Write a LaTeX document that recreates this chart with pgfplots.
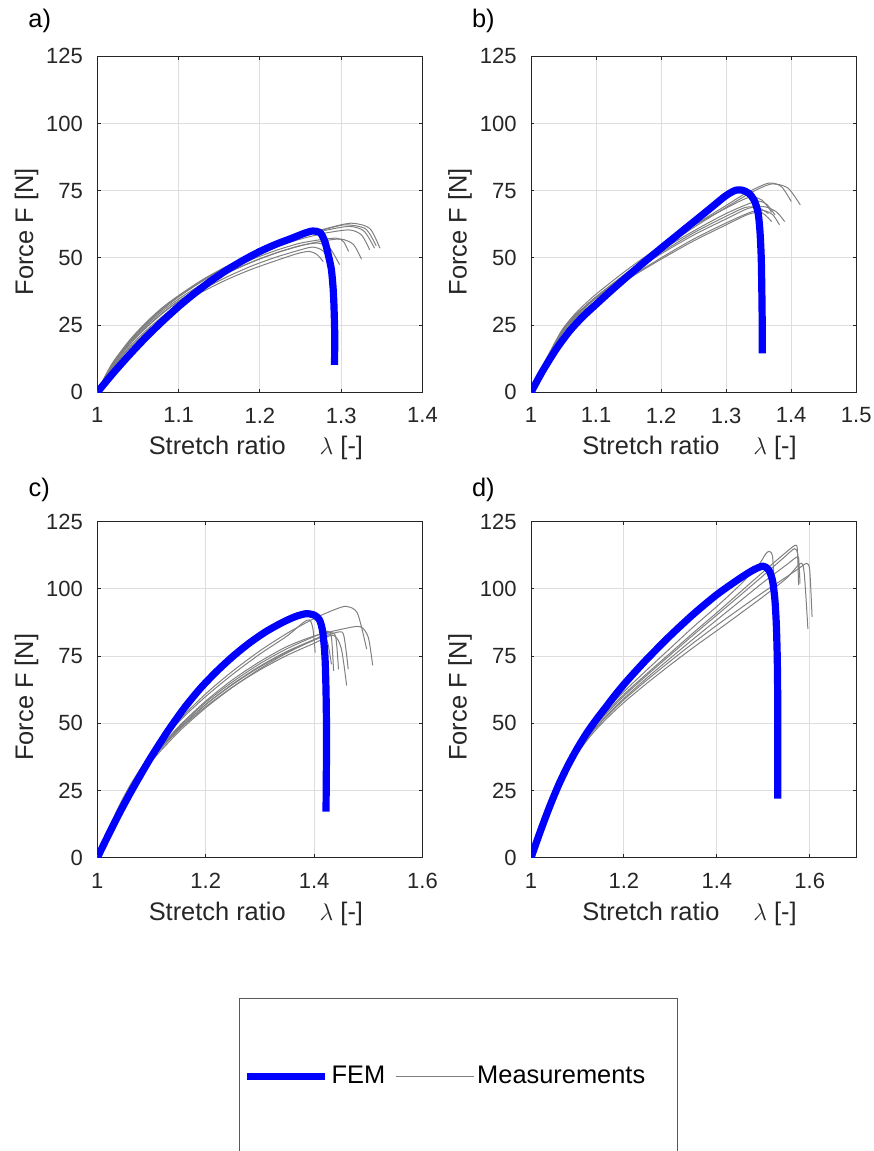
\documentclass[border=0pt]{standalone}
\usepackage{pgfplots}
\pgfplotsset{compat=1.18}
\usepackage{fontspec}
\setmainfont{Liberation Sans}
\definecolor{axgray}{gray}{0.15}
\definecolor{gridgray}{gray}{0.87}
\definecolor{measgray}{gray}{0.5}
\definecolor{legframe}{gray}{0.35}
\definecolor{femblue}{rgb}{0,0,1}
\pgfplotsset{
  panel/.style={
    scale only axis, width=162.6pt, height=168pt,
    ymin=0, ymax=125, ytick={0,25,50,75,100,125},
    xmin=1,
    grid=major, major grid style={gridgray, line width=0.5pt},
    axis line style={axgray, line width=0.5pt},
    every tick/.style={axgray, line width=0.5pt},
    tick align=inside, major tick length=1.7pt,
    /pgf/number format/assume math mode=true,
    tick label style={font=\fontsize{11}{13}\selectfont, text=axgray},
    xticklabel style={anchor=north, inner sep=0pt, yshift=-7.5pt},
    yticklabel style={anchor=east, inner sep=0pt, xshift=-7pt},
    label style={font=\fontsize{12.7}{15}\selectfont, text=axgray, inner sep=0pt},
    xlabel={Stretch ratio\hspace{17pt}$\lambda$ [-]},
    ylabel={Force F [N]},
    xlabel style={at={(axis description cs:0.4877,-0.1864)}, anchor=base},
    ylabel style={at={(axis description cs:-0.1976,0.478)}, anchor=base},
  },
  meas/.style={color=measgray, line width=0.5pt, line join=round, smooth, tension=0.45},
  fem/.style={color=femblue, line width=3.6pt, line join=round, smooth, tension=0.45},
  femleg/.style={color=femblue, line width=3.6pt},
  measleg/.style={color=measgray, line width=0.5pt},
}
\begin{document}
\begin{tikzpicture}
\path[use as bounding box] (0,0) rectangle (436.5pt,575.5pt);
% ---------------- a) ----------------
\begin{axis}[panel, at={(48.65pt,379.35pt)}, anchor=south west, xmax=1.4, xtick={1,1.1,1.2,1.3,1.4}]
\addplot[meas] coordinates {(1,0)(1.01,5)(1.02,9.5)(1.04,16.5)(1.06,22.3)(1.08,27.5)(1.10,32)(1.13,37.5)(1.16,42)(1.19,45.8)(1.22,49)(1.245,51.5)(1.26,52.4)(1.27,51.3)(1.278,48.6)};
\addplot[meas] coordinates {(1,0)(1.01,5.2)(1.02,9.8)(1.04,17)(1.06,23)(1.08,28.2)(1.10,32.8)(1.13,38.3)(1.16,43)(1.19,47)(1.22,50.3)(1.25,53)(1.265,54)(1.278,52.5)(1.290,46.2)};
\addplot[meas] coordinates {(1,0)(1.01,5.5)(1.02,10.3)(1.04,17.8)(1.06,24)(1.08,29.3)(1.10,33.8)(1.13,39.5)(1.16,44.3)(1.19,48.4)(1.22,51.8)(1.25,54.5)(1.27,55.5)(1.285,54)(1.298,47.5)};
\addplot[meas] coordinates {(1,0)(1.01,5.8)(1.02,10.8)(1.04,18.5)(1.06,24.8)(1.08,30.2)(1.10,34.7)(1.13,40.5)(1.16,45.3)(1.19,49.4)(1.22,52.8)(1.25,55.5)(1.28,57)(1.295,57.3)(1.303,56)(1.309,52.4)};
\addplot[meas] coordinates {(1,0)(1.01,5.6)(1.02,10.5)(1.04,18)(1.06,24.2)(1.08,29.5)(1.10,34)(1.13,39.7)(1.16,44.5)(1.19,48.5)(1.22,51.9)(1.25,54.6)(1.28,56.4)(1.30,57)(1.315,55)(1.325,49.5)};
\addplot[meas] coordinates {(1,0)(1.01,6)(1.02,11.2)(1.04,19)(1.06,25.5)(1.08,31)(1.10,35.6)(1.13,41.5)(1.16,46.4)(1.19,50.6)(1.22,54.1)(1.25,57)(1.28,59.2)(1.31,60.4)(1.325,58.5)(1.335,53)};
\addplot[meas] coordinates {(1,0)(1.01,6.2)(1.02,11.5)(1.04,19.5)(1.06,26)(1.08,31.5)(1.10,36)(1.13,42)(1.16,47)(1.19,51.2)(1.22,54.8)(1.25,57.8)(1.28,60.2)(1.31,61.7)(1.328,60)(1.341,53.6)};
\addplot[meas] coordinates {(1,0)(1.01,5.9)(1.02,11)(1.04,18.8)(1.06,25.3)(1.08,30.8)(1.10,35.5)(1.13,41.6)(1.16,46.8)(1.19,51.2)(1.22,55)(1.25,58.2)(1.28,60.8)(1.312,62.9)(1.335,61)(1.3476,53.6)};
\addplot[meas] coordinates {(1,0)(1.01,6.1)(1.02,11.3)(1.04,19.2)(1.06,25.7)(1.08,31.2)(1.10,35.8)(1.13,41.8)(1.16,46.9)(1.19,51.3)(1.22,55)(1.25,58.1)(1.28,60.6)(1.305,62.3)(1.33,60.8)(1.343,54.5)};
\addplot[fem] coordinates {(1,0)(1.02,7.3)(1.04,14.1)(1.06,20.5)(1.08,26.4)(1.10,31.9)(1.12,36.9)(1.14,41.5)(1.16,45.6)(1.18,49.2)(1.20,52.4)(1.22,55.1)(1.24,57.4)(1.255,59.2)(1.265,60.0)(1.274,59.4)(1.280,56.0)(1.285,50)(1.288,45.5)(1.290,39)(1.291,33)(1.292,22)(1.2918,10.2)};
\end{axis}
% ---------------- b) ----------------
\begin{axis}[panel, at={(265.5pt,379.35pt)}, anchor=south west, xmax=1.5, xtick={1,1.1,1.2,1.3,1.4,1.5}]
\addplot[meas] coordinates {(1,0)(1.02,10.5)(1.04,19.5)(1.05,23.5)(1.07,29)(1.10,35.5)(1.15,45)(1.20,53.8)(1.25,62)(1.30,69.5)(1.33,74)(1.365,77.8)(1.385,76.5)(1.40,71)};
\addplot[meas] coordinates {(1,0)(1.02,10)(1.04,19)(1.05,23)(1.07,28.5)(1.10,35)(1.15,44.5)(1.20,53.2)(1.25,61.3)(1.30,68.8)(1.34,74.5)(1.37,77.5)(1.395,76)(1.414,69.7)};
\addplot[meas] coordinates {(1,0)(1.02,10.8)(1.04,20)(1.05,24)(1.07,29.8)(1.10,36.5)(1.15,46)(1.20,54.5)(1.25,62)(1.30,68.5)(1.335,72.5)(1.355,71.5)(1.37,67)};
\addplot[meas] coordinates {(1,0)(1.02,10.2)(1.04,19.2)(1.05,23.3)(1.07,29)(1.10,35.5)(1.15,44.8)(1.20,52.8)(1.25,60)(1.30,66.5)(1.345,71)(1.362,70)(1.375,66)};
\addplot[meas] coordinates {(1,0)(1.02,10.5)(1.04,19.5)(1.05,23.8)(1.07,29.2)(1.10,35)(1.15,43.8)(1.20,51.5)(1.25,58.5)(1.30,64.5)(1.335,68.5)(1.36,69)(1.378,67)(1.39,63.5)};
\addplot[meas] coordinates {(1,0)(1.02,10)(1.04,19)(1.05,23)(1.07,28.3)(1.10,34)(1.15,42.5)(1.20,50)(1.25,57)(1.30,63)(1.34,67.2)(1.36,67.5)(1.372,66)(1.382,62.3)};
\addplot[meas] coordinates {(1,0)(1.02,9.8)(1.04,18.5)(1.05,22.5)(1.07,27.8)(1.10,33.7)(1.15,42.2)(1.20,49.5)(1.25,56.3)(1.30,62.3)(1.335,66.3)(1.355,66.8)(1.37,63.5)};
\addplot[meas] coordinates {(1,0)(1.02,10.3)(1.04,19.3)(1.05,23.5)(1.07,29)(1.10,35.2)(1.15,44.2)(1.20,52)(1.25,59.3)(1.30,65.5)(1.33,68.8)(1.35,68.6)(1.365,66.5)};
\addplot[fem] coordinates {(1,0)(1.01,4.5)(1.02,8.8)(1.04,16.5)(1.06,23)(1.08,28.2)(1.10,32.7)(1.125,38.2)(1.15,43.5)(1.175,48.6)(1.20,53.6)(1.225,58.5)(1.25,63.4)(1.275,68.3)(1.295,72.3)(1.305,74.0)(1.315,75.2)(1.325,75.2)(1.335,74.0)(1.343,71.5)(1.349,67)(1.352,60)(1.354,50)(1.355,36)(1.3555,25)(1.3555,14.5)};
\end{axis}
% ---------------- c) ----------------
\begin{axis}[panel, at={(48.65pt,146.6pt)}, anchor=south west, xmax=1.6, xtick={1,1.2,1.4,1.6}]
\addplot[meas] coordinates {(1,0)(1.02,10)(1.04,19)(1.06,26.5)(1.08,33)(1.10,38.8)(1.15,51)(1.20,61)(1.25,69.5)(1.30,77)(1.35,83.5)(1.40,89)(1.44,92.5)(1.46,93.5)(1.48,91)(1.497,77.6)};
\addplot[meas] coordinates {(1,0)(1.02,9.5)(1.04,18.2)(1.06,25.5)(1.08,31.8)(1.10,37.3)(1.15,48.8)(1.20,58.3)(1.25,66.3)(1.30,73)(1.35,78.6)(1.40,82.5)(1.45,85)(1.485,86)(1.50,82)(1.508,71.6)};
\addplot[meas] coordinates {(1,0)(1.02,10.2)(1.04,19.2)(1.06,26.8)(1.08,33.2)(1.10,38.8)(1.15,50.5)(1.20,60)(1.25,68.3)(1.30,75.8)(1.35,82.5)(1.38,87.5)(1.392,88.5)(1.398,85)(1.402,76.3)};
\addplot[meas] coordinates {(1,0)(1.02,9.8)(1.04,18.5)(1.06,25.8)(1.08,32)(1.10,37.5)(1.15,48.5)(1.20,57.8)(1.25,65.5)(1.30,72.2)(1.35,77.8)(1.40,82.3)(1.425,84.3)(1.432,82)(1.436,69.5)};
\addplot[meas] coordinates {(1,0)(1.02,9.5)(1.04,18)(1.06,25.2)(1.08,31.3)(1.10,36.8)(1.15,47.8)(1.20,57)(1.25,64.7)(1.30,71.3)(1.35,76.8)(1.40,81.2)(1.43,83.8)(1.44,82)(1.445,70.1)};
\addplot[meas] coordinates {(1,0)(1.02,9.7)(1.04,18.2)(1.06,25.4)(1.08,31.5)(1.10,36.8)(1.15,47.5)(1.20,56.2)(1.25,63.6)(1.30,69.9)(1.35,75.3)(1.40,79.8)(1.435,82.8)(1.45,78)(1.46,64.1)};
\addplot[meas] coordinates {(1,0)(1.02,9.3)(1.04,17.7)(1.06,24.8)(1.08,30.8)(1.10,36)(1.15,46.8)(1.20,55.8)(1.25,63.5)(1.30,70.3)(1.35,76.2)(1.40,81)(1.445,84)(1.455,82.5)(1.463,70.1)};
\addplot[meas] coordinates {(1,0)(1.02,9.9)(1.04,18.6)(1.06,25.9)(1.08,32)(1.10,37.3)(1.15,48)(1.20,57)(1.25,64.5)(1.30,71)(1.35,76.5)(1.40,81)(1.415,82.2)(1.425,80)(1.432,72)};
\addplot[fem] coordinates {(1,0)(1.02,8.3)(1.04,16.3)(1.06,23.8)(1.08,30.9)(1.10,37.7)(1.13,47.1)(1.16,55.6)(1.19,63.0)(1.22,69.3)(1.25,74.9)(1.28,79.8)(1.31,84.0)(1.34,87.4)(1.365,89.7)(1.385,90.8)(1.400,90.3)(1.410,88.5)(1.416,84)(1.420,75)(1.422,62)(1.423,45)(1.4225,30)(1.422,17.2)};
\end{axis}
% ---------------- d) ----------------
\begin{axis}[panel, at={(265.5pt,146.6pt)}, anchor=south west, xmax=1.7, xtick={1,1.2,1.4,1.6}]
\addplot[meas] coordinates {(1,0)(1.02,10.5)(1.04,20)(1.06,28)(1.08,35)(1.10,41)(1.13,48.5)(1.16,54.6)(1.20,61.8)(1.25,70)(1.30,78)(1.35,86)(1.40,93.5)(1.45,101.5)(1.49,109)(1.505,113)(1.513,114)(1.52,112)(1.524,100)};
\addplot[meas] coordinates {(1,0)(1.02,10.8)(1.04,20.3)(1.06,28.2)(1.08,34.9)(1.10,40.6)(1.13,47.8)(1.16,53.8)(1.20,60.8)(1.25,68.6)(1.30,76.2)(1.35,83.8)(1.40,91.2)(1.45,98.8)(1.50,106.4)(1.55,113.8)(1.571,116.3)(1.574,112)(1.576,101.4)};
\addplot[meas] coordinates {(1,0)(1.02,10.6)(1.04,20)(1.06,27.9)(1.08,34.5)(1.10,40.2)(1.13,47.3)(1.16,53.2)(1.20,60.2)(1.25,68)(1.30,75.5)(1.35,83)(1.40,90.3)(1.45,97.6)(1.50,105)(1.545,111.8)(1.567,115)(1.574,113)(1.578,104.5)};
\addplot[meas] coordinates {(1,0)(1.02,10.3)(1.04,19.6)(1.06,27.4)(1.08,34)(1.10,39.6)(1.13,46.6)(1.16,52.4)(1.20,59.3)(1.25,67)(1.30,74.3)(1.35,81.5)(1.40,88.5)(1.45,95.5)(1.50,102.5)(1.55,109)(1.574,112)(1.577,109)(1.579,102)};
\addplot[meas] coordinates {(1,0)(1.02,10.1)(1.04,19.2)(1.06,26.9)(1.08,33.4)(1.10,38.9)(1.13,45.7)(1.16,51.3)(1.20,57.8)(1.25,65)(1.30,71.8)(1.35,78.3)(1.40,84.5)(1.45,90.8)(1.50,97.2)(1.55,104)(1.58,109.5)(1.588,106)(1.596,85.2)};
\addplot[meas] coordinates {(1,0)(1.02,10.4)(1.04,19.6)(1.06,27.4)(1.08,34)(1.10,39.5)(1.13,46.4)(1.16,52.1)(1.20,58.8)(1.25,66.2)(1.30,73.2)(1.35,80)(1.40,86.5)(1.45,92.7)(1.50,98.8)(1.55,104.5)(1.585,108.7)(1.594,109.5)(1.60,107)(1.605,89.6)};
\addplot[fem] coordinates {(1,0)(1.02,9.8)(1.04,19)(1.06,27.3)(1.08,34.5)(1.10,40.8)(1.12,46.4)(1.14,51.3)(1.16,55.8)(1.18,60.3)(1.20,64.5)(1.22,68.4)(1.25,74.0)(1.30,82.7)(1.35,90.7)(1.40,97.9)(1.45,104.0)(1.48,107.2)(1.50,108.5)(1.512,107)(1.52,103)(1.525,96)(1.528,87)(1.530,75)(1.531,60)(1.531,40)(1.531,22)};
\end{axis}
% ---------------- legend ----------------
\begin{axis}[at={(119.65pt,76.35pt)}, anchor=north west, scale only axis,
  width=218.85pt, height=78pt, xmin=0, xmax=1, ymin=0, ymax=1,
  xtick=\empty, ytick=\empty, axis line style={legframe, line width=0.5pt},
  legend image code/.code={\draw[#1] (0pt,0pt) -- (39pt,0pt);},
  legend style={at={(axis description cs:0.0085,0.5)}, anchor=west, draw=none, fill=none,
    inner sep=0pt, nodes={inner sep=0pt}, legend columns=2,
    font=\fontsize{12.7}{15}\selectfont,
    /tikz/every odd column/.style={column sep=1.5pt},
    /tikz/every even column/.style={column sep=5pt}}]
\addlegendimage{femleg}
\addlegendentry{FEM}
\addlegendimage{measleg}
\addlegendentry{Measurements}
\end{axis}
% ---------------- panel letters ----------------
\node[anchor=base west, inner sep=0pt, font=\fontsize{12.7}{15}\selectfont] at (14pt,561.5pt) {a)};
\node[anchor=base west, inner sep=0pt, font=\fontsize{12.7}{15}\selectfont] at (235.85pt,561.5pt) {b)};
\node[anchor=base west, inner sep=0pt, font=\fontsize{12.7}{15}\selectfont] at (14.15pt,327.25pt) {c)};
\node[anchor=base west, inner sep=0pt, font=\fontsize{12.7}{15}\selectfont] at (235.85pt,327.25pt) {d)};
\end{tikzpicture}
\end{document}
